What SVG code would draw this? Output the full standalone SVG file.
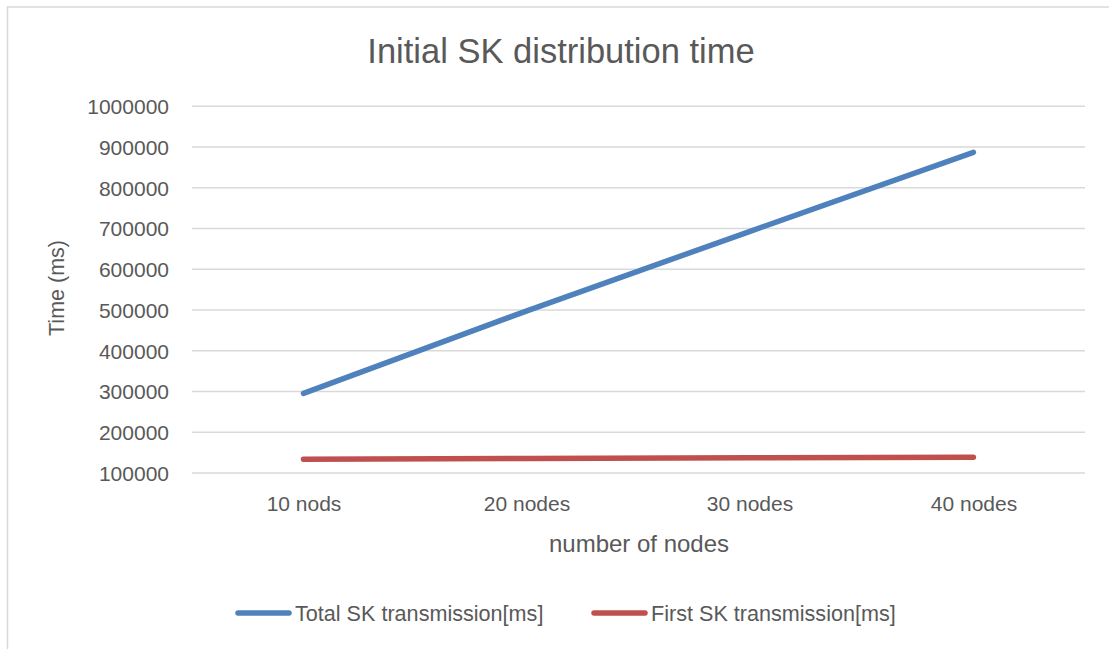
<svg xmlns="http://www.w3.org/2000/svg" width="1109" height="649" viewBox="0 0 1109 649">
<style>
text{font-family:"Liberation Sans",Arial,sans-serif;fill:#595959}
.ylab{font-size:21px;text-anchor:end}
.xlab{font-size:21px;text-anchor:middle}
.leg{font-size:21.6px}
.grid{stroke:#d9d9d9;stroke-width:1.5}
.series{fill:none;stroke-width:5.5;stroke-linecap:round;stroke-linejoin:round}
.blue{stroke:#4f81bd}
.red{stroke:#c0504d}
</style>
<rect x="0" y="0" width="1109" height="649" fill="#ffffff"/>
<rect id="chart-border" x="7.5" y="7" width="1120" height="660" fill="none" stroke="#d9d9d9" stroke-width="1.5"/>
<text id="title" x="561" y="63" style="font-size:34.5px" text-anchor="middle">Initial SK distribution time</text>
<g id="gridlines">
<line class="grid" x1="192" y1="106.3" x2="1085" y2="106.3"/>
<line class="grid" x1="192" y1="147" x2="1085" y2="147"/>
<line class="grid" x1="192" y1="187.8" x2="1085" y2="187.8"/>
<line class="grid" x1="192" y1="228.5" x2="1085" y2="228.5"/>
<line class="grid" x1="192" y1="269.3" x2="1085" y2="269.3"/>
<line class="grid" x1="192" y1="310" x2="1085" y2="310"/>
<line class="grid" x1="192" y1="350.8" x2="1085" y2="350.8"/>
<line class="grid" x1="192" y1="391.5" x2="1085" y2="391.5"/>
<line class="grid" x1="192" y1="432.3" x2="1085" y2="432.3"/>
<line class="grid" x1="192" y1="473" x2="1085" y2="473"/>
</g>
<g id="y-axis-labels">
<text class="ylab" x="169" y="114">1000000</text>
<text class="ylab" x="169" y="154.7">900000</text>
<text class="ylab" x="169" y="195.5">800000</text>
<text class="ylab" x="169" y="236.2">700000</text>
<text class="ylab" x="169" y="277">600000</text>
<text class="ylab" x="169" y="317.7">500000</text>
<text class="ylab" x="169" y="358.5">400000</text>
<text class="ylab" x="169" y="399.2">300000</text>
<text class="ylab" x="169" y="440">200000</text>
<text class="ylab" x="169" y="480.7">100000</text>
</g>
<g id="x-axis-labels">
<text class="xlab" x="304" y="511">10 nods</text>
<text class="xlab" x="527" y="511">20 nodes</text>
<text class="xlab" x="750" y="511">30 nodes</text>
<text class="xlab" x="974" y="511">40 nodes</text>
</g>
<text id="x-axis-title" x="639" y="552" style="font-size:24px" text-anchor="middle">number of nodes</text>
<text id="y-axis-title" transform="translate(64,288) rotate(-90)" style="font-size:21.5px" text-anchor="middle">Time (ms)</text>
<g id="connectors">
<polyline id="series-total" class="series blue" points="303.5,393.3 526.9,310.8 750.1,231.3 973.4,152.3"/>
<polyline id="series-first" class="series red" points="303.5,459.3 526.9,458.5 750.1,457.8 973.4,457.3"/>
</g>
<g id="legend">
<g id="legend-total">
<line class="series blue" x1="238" y1="613" x2="289" y2="613"/>
<text class="leg" x="295" y="620.5">Total SK transmission[ms]</text>
</g>
<g id="legend-first">
<line class="series red" x1="594" y1="613" x2="645" y2="613"/>
<text class="leg" x="651" y="620.5">First SK transmission[ms]</text>
</g>
</g>
</svg>
